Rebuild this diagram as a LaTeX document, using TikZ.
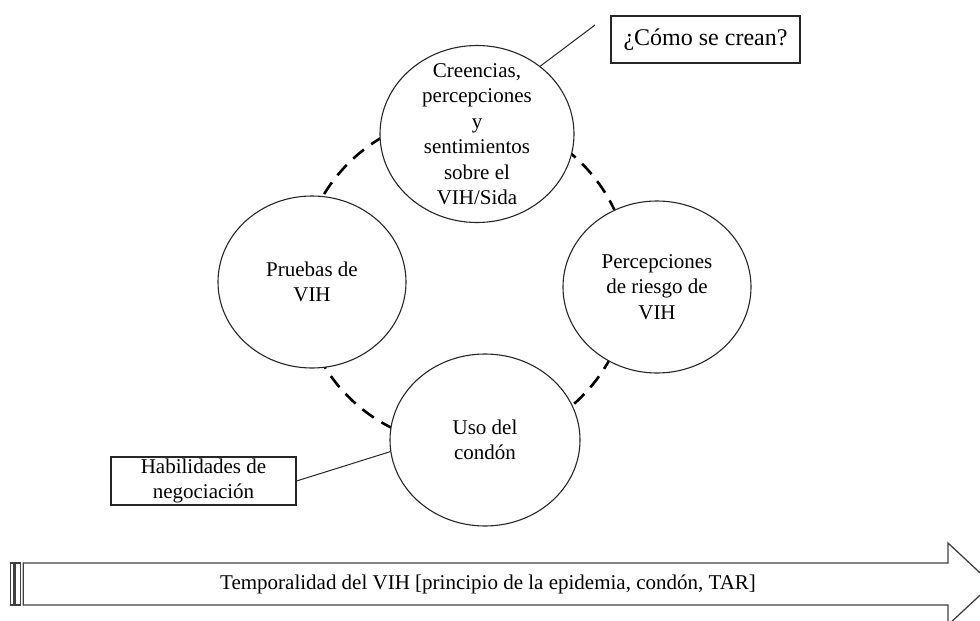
\documentclass[tikz,border=0pt]{standalone}
\usepackage{fontspec}
\setmainfont{Liberation Serif}
\usetikzlibrary{shapes.geometric}
\begin{document}
\begin{tikzpicture}[x=1pt,y=-1pt,
  bubble/.style={ellipse,draw=black!85,line width=1.1pt,fill=white,inner sep=0pt},
  txt/.style={align=center,font=\fontsize{21}{25.5}\selectfont,inner sep=0pt},
  ring/.style={draw=black,line width=2.6pt,dash pattern=on 14pt off 9pt},
  callout/.style={draw=black!85,line width=1.1pt,fill=white,align=center,inner sep=0pt},
  leader/.style={draw=black!85,line width=1pt},
  shaft/.style={draw=black!75,line width=1.3pt,fill=white}]
\useasboundingbox (0,0) rectangle (980,621);
\clip (0,0) rectangle (980,621);

% dashed cycle behind the four themes
\draw[ring] (465,280) circle[radius=165pt];

% themes
\node[bubble,minimum width=194pt,minimum height=177pt] (beliefs) at (477,134) {};
\node[txt] (beliefsT) at (beliefs.center) {Creencias,\\percepciones\\y\\sentimientos\\sobre el\\VIH/Sida};

\node[bubble,minimum width=188pt,minimum height=172pt] (tests) at (312,282) {};
\node[txt] (testsT) at (tests.center) {Pruebas de\\VIH};

\node[bubble,minimum width=188pt,minimum height=172pt] (risk) at (657,287) {};
\node[txt] (riskT) at (risk.center) {Percepciones\\de riesgo de\\VIH};

\node[bubble,minimum width=190pt,minimum height=172pt] (condom) at (485,440) {};
\node[txt] (condomT) at (condom.center) {Uso del\\condón};

% callouts
\node[callout,font=\fontsize{24}{28}\selectfont,minimum width=189pt,minimum height=47pt] (how) at (705.5,39.5) {¿Cómo se crean?};
\coordinate (howEnd) at (595,25);
\draw[leader] (beliefs.47) -- (howEnd);

\node[callout,font=\fontsize{21}{25}\selectfont,minimum width=185pt,minimum height=48pt] (skills) at (203.5,481) {Habilidades de\\negociación};
\draw[leader] (skills.east) -- (condom.187);

% striped time arrow
\draw[shaft] (10.7,563) rectangle (14,605);
\draw[shaft] (15.7,563) rectangle (20.7,605);
\draw[shaft] (23.3,563) -- (948,563) -- (948,543) -- (992,584) -- (948,625) -- (948,605) -- (23.3,605) -- cycle;
\node[txt] (time) at (488,584) {Temporalidad del VIH [principio de la epidemia, condón, TAR]};
\end{tikzpicture}
\end{document}
